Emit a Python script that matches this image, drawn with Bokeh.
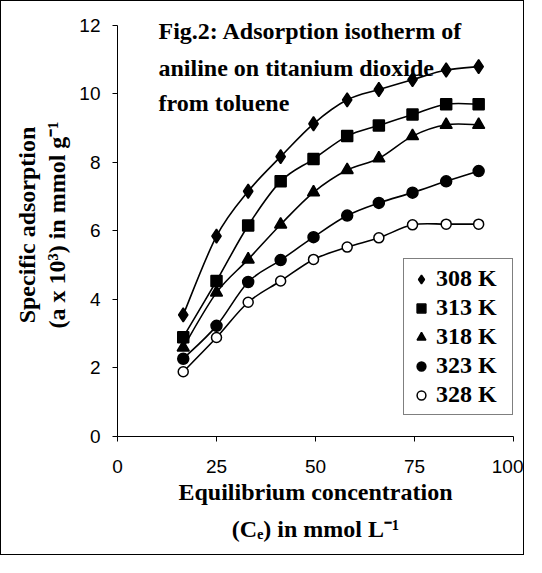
import numpy as np
from bokeh.plotting import figure
from bokeh.models import Label, Legend, LegendItem, Range1d, FixedTicker, Title
from bokeh.embed import file_html
from bokeh.resources import INLINE

# ---- data ----
conc = [16.6, 25, 33, 41.2, 49.5, 58, 66, 74.5, 83, 91.2]
ads_308 = [3.55, 5.85, 7.16, 8.17, 9.13, 9.83, 10.13, 10.42, 10.7, 10.8]
ads_313 = [2.90, 4.54, 6.16, 7.45, 8.10, 8.77, 9.08, 9.40, 9.70, 9.70]
ads_318 = [2.60, 4.20, 5.17, 6.19, 7.13, 7.78, 8.12, 8.77, 9.10, 9.10]
ads_323 = [2.27, 3.23, 4.51, 5.15, 5.82, 6.45, 6.82, 7.12, 7.45, 7.75]
ads_328 = [1.89, 2.89, 3.92, 4.54, 5.17, 5.53, 5.80, 6.18, 6.20, 6.20]
series_labels = ["308 K", "313 K", "318 K", "323 K", "328 K"]
x_ticks = [0, 25, 50, 75, 100]
y_ticks = [0, 2, 4, 6, 8, 10, 12]

SERIF = "Liberation Serif"
SANS = "Liberation Sans"
TXT = "24px"

p = figure(width=524, height=555, x_range=Range1d(0, 100), y_range=Range1d(0, 12.35),
           output_backend="svg", toolbar_location=None,
           min_border_left=116, min_border_right=12, min_border_top=12, min_border_bottom=120)
p.styles = {"border": "1px solid black"}
p.outline_line_color = None
p.grid.visible = False
p.background_fill_color = "white"
p.border_fill_color = "white"

for ax, ticks in ((p.xaxis[0], x_ticks), (p.yaxis[0], y_ticks)):
    ax.ticker = FixedTicker(ticks=ticks)
    ax.minor_tick_line_color = None
    ax.major_tick_in = 0
    ax.major_tick_out = 5
    ax.axis_line_color = "black"
    ax.major_tick_line_color = "black"
    ax.major_label_text_font = SANS
    ax.major_label_text_font_size = "19px"
    ax.major_label_text_color = "black"
    ax.axis_label_text_font = SERIF
    ax.axis_label_text_font_style = "bold"
    ax.axis_label_text_font_size = TXT
    ax.axis_label_text_color = "black"
p.yaxis[0].bounds = (0, 12)
p.xaxis[0].major_label_standoff = 18
p.yaxis[0].major_label_standoff = 12
p.xaxis[0].axis_label = "Equilibrium concentration"
p.xaxis[0].axis_label_standoff = 3
p.yaxis[0].axis_label = "(a x 10³) in mmol g⁻¹"
p.yaxis[0].axis_label_standoff = 6

p.add_layout(Title(text="Specific adsorption", align="center", text_font=SERIF,
                   text_font_style="bold", text_font_size=TXT, text_color="black",
                   standoff=4), "left")
p.add_layout(Title(text="(Cₑ) in mmol L⁻¹", align="center", text_font=SERIF,
                   text_font_style="bold", text_font_size=TXT, text_color="black",
                   standoff=12), "below")


def smooth(xs, ys):
    P = np.column_stack([xs, ys]).astype(float)
    n = len(P)
    seg = {k: [] for k in ("x0", "y0", "x1", "y1", "cx0", "cy0", "cx1", "cy1")}
    for i in range(n - 1):
        pm = P[i - 1] if i > 0 else P[i]
        pp = P[i + 2] if i + 2 < n else P[i + 1]
        c0 = P[i] + (P[i + 1] - pm) / 6.0
        c1 = P[i + 1] - (pp - P[i]) / 6.0
        seg["x0"].append(P[i][0]); seg["y0"].append(P[i][1])
        seg["x1"].append(P[i + 1][0]); seg["y1"].append(P[i + 1][1])
        seg["cx0"].append(c0[0]); seg["cy0"].append(c0[1])
        seg["cx1"].append(c1[0]); seg["cy1"].append(c1[1])
    return seg


series = [ads_308, ads_313, ads_318, ads_323, ads_328]
markers = [("diamond", 14, "black"), ("square", 11, "black"), ("triangle", 12, "black"),
           ("circle", 11, "black"), ("circle", 10, "white")]

items = []
for ys, (mk, sz, fill), lbl in zip(series, markers, series_labels):
    p.bezier(**smooth(conc, ys), line_color="black", line_width=1.6)
    r = p.scatter(conc, ys, marker=mk, size=sz, fill_color=fill, line_color="black", line_width=1.5)
    items.append(LegendItem(label=lbl, renderers=[r]))

legend = Legend(items=items, location=(286, 21), margin=0, padding=6, spacing=2,
                glyph_width=22, glyph_height=26, label_height=26, label_width=70, label_standoff=4,
                label_text_font=SERIF, label_text_font_style="bold", label_text_font_size="24px",
                label_text_color="black",
                border_line_color="black", border_line_width=1, background_fill_color="white",
                background_fill_alpha=1)
p.add_layout(legend)

# title inside plot
title_lines = ["Fig.2: Adsorption isotherm of", "aniline on titanium dioxide", "from toluene"]
for txt, yb in zip(title_lines, [11.85, 10.77, 9.75]):
    p.add_layout(Label(x=10.35, y=yb, text=txt, text_font=SERIF, text_font_style="bold",
                       text_font_size=TXT, text_color="black",
                       text_baseline="alphabetic", text_align="left"))

open("out.html", "w").write(file_html(p, INLINE))
